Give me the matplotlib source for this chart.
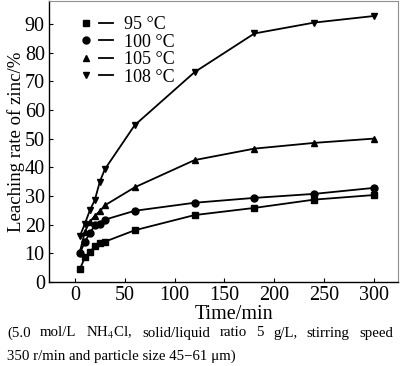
import matplotlib
matplotlib.use("Agg")
import matplotlib.pyplot as plt
from matplotlib.lines import Line2D
from matplotlib.legend_handler import HandlerTuple

# data
times = [5, 10, 15, 20, 25, 30, 60, 120, 180, 240, 300]
rate_95 = [4.5, 8.5, 10.3, 12.6, 13.5, 14.0, 18.0, 23.3, 25.8, 28.7, 30.3]
rate_100 = [10.0, 14.0, 17.0, 19.8, 20.3, 21.7, 24.8, 27.6, 29.3, 30.7, 32.8]
rate_105 = [10.5, 17.5, 21.0, 23.0, 24.7, 26.7, 33.0, 42.5, 46.5, 48.5, 50.0]
rate_108 = [16.0, 20.3, 25.0, 28.6, 35.0, 39.3, 54.7, 73.2, 86.7, 90.5, 92.8]
labels = ["95 \u00b0C", "100 \u00b0C", "105 \u00b0C", "108 \u00b0C"]
markers = ["s", "o", "^", "v"]
x_ticks = [0, 50, 100, 150, 200, 250, 300]
y_ticks = [0, 10, 20, 30, 40, 50, 60, 70, 80, 90]

caption1 = ["(5.0", "mol/L", "NH$_4$Cl,", "solid/liquid", "ratio", "5", "g/L,",
            "stirring", "speed"]
caption2 = "350 r/min and particle size 45\u221261 \u03bcm)"


def main():
    plt.rcParams["font.family"] = ["Liberation Serif", "DejaVu Serif"]
    plt.rcParams["mathtext.fontset"] = "stix"

    fig = plt.figure(figsize=(4.0, 3.66), dpi=100)
    ax = fig.add_axes([0.1225, 0.230, 0.8725, 0.767])

    handles = []
    for y, m, lab in zip([rate_95, rate_100, rate_105, rate_108], markers, labels):
        ax.plot(times, y, color="black", lw=1.3, marker=m, ms=5)
        h_mark = Line2D([], [], color="black", marker=m, ms=5, ls="none")
        h_line = Line2D([], [], color="black", lw=1.3)
        handles.append((h_mark, h_line))

    ax.legend(handles, labels, handler_map={tuple: HandlerTuple(ndivide=2, pad=0.3)},
              loc="upper left", bbox_to_anchor=(0.055, 0.985), frameon=False,
              fontsize=13, handlelength=1.9, handletextpad=0.6,
              labelspacing=0.03, borderaxespad=0.2)

    ax.set_xlim(-26, 324)
    ax.set_ylim(0, 98)
    ax.set_xticks(x_ticks)
    ax.set_yticks(y_ticks)
    ax.tick_params(direction="in", length=3, labelsize=14.5, width=0.8, pad=3)
    ax.set_xlabel("Time/min", fontsize=14.5, labelpad=0, x=0.53)
    ax.set_ylabel("Leaching rate of zinc/%", fontsize=13.5, labelpad=0)
    for side in ["top", "right"]:
        ax.spines[side].set_color("#909090")
    for side in ["left", "bottom"]:
        ax.spines[side].set_linewidth(1.0)

    # justified first caption line
    fig.canvas.draw()
    r = fig.canvas.get_renderer()
    x0, x1 = 7 / 400, 393 / 400
    y_line1 = 1 - 333 / 366
    objs = [fig.text(0, y_line1, w, fontsize=10.7, va="center") for w in caption1]
    widths = [t.get_window_extent(r).width / fig.bbox.width for t in objs]
    gap = (x1 - x0 - sum(widths)) / (len(objs) - 1)
    x = x0
    for t, w in zip(objs, widths):
        t.set_x(x)
        x += w + gap
    fig.text(x0, 1 - 356 / 366, caption2, fontsize=10.7, va="center")

    fig.savefig("out.png", dpi=100)


if __name__ == "__main__":
    main()
